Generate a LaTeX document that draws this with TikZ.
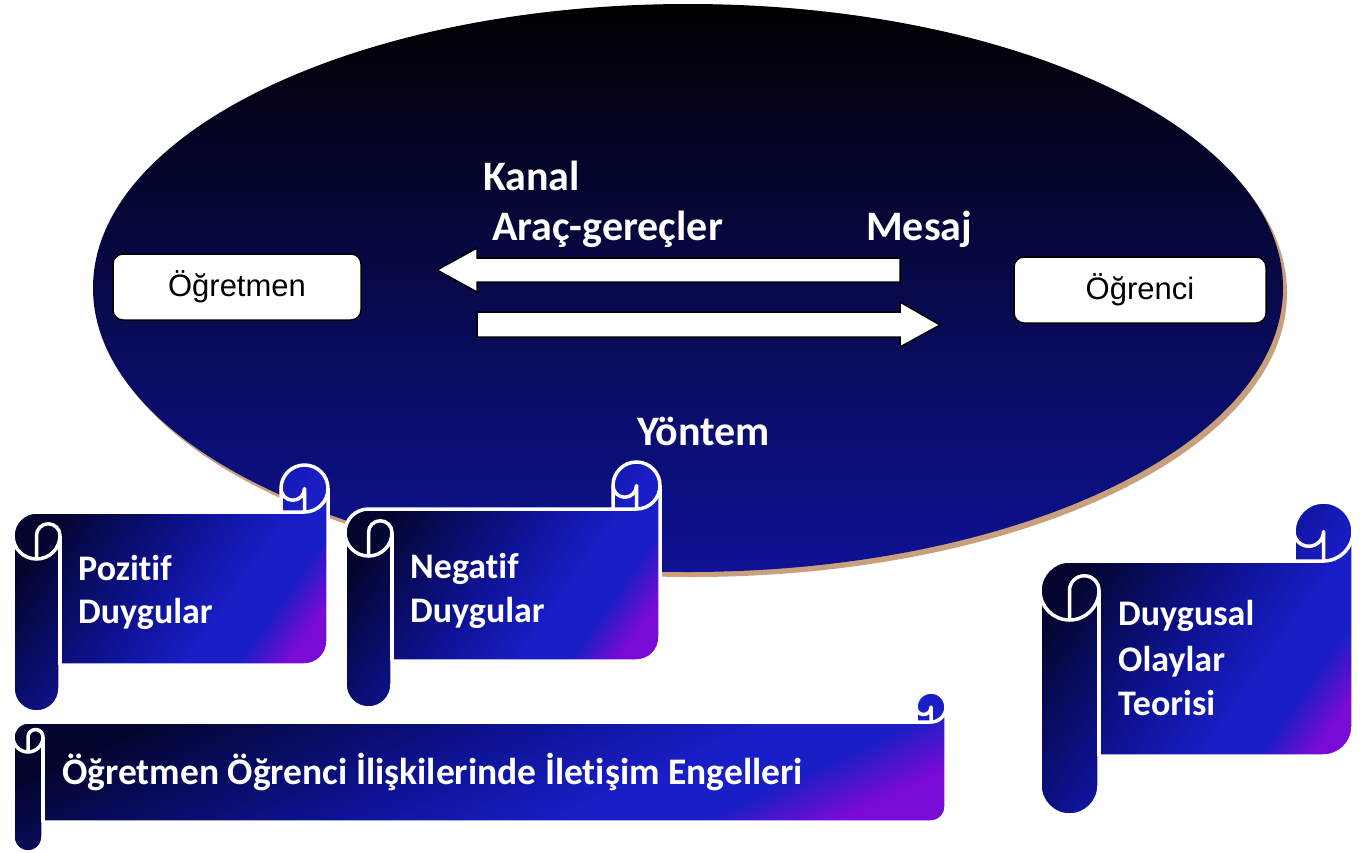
\documentclass[tikz,border=0pt]{standalone}
\usepackage{fontspec}
\setmainfont{Carlito}[Ligatures={NoCommon}]
\newfontfamily\arialf{Liberation Sans}
\usetikzlibrary{calc}
\definecolor{ellTop}{HTML}{000000}
\definecolor{ellMid}{HTML}{07085C}
\definecolor{ellBot}{HTML}{0E1294}
\definecolor{shadowTan}{HTML}{C9A07E}
\definecolor{scA}{HTML}{03052E}
\definecolor{scB}{HTML}{0E1398}
\definecolor{scC}{HTML}{1A1EC6}
\definecolor{scD}{HTML}{7A0AD6}
\pgfdeclarehorizontalshading{scrollshade}{100bp}{color(0bp)=(scA); color(27bp)=(scA); color(48bp)=(scB); color(60bp)=(scC); color(67bp)=(scC); color(74bp)=(scD); color(100bp)=(scD)}
\tikzset{
  scrollfill/.style={shading=scrollshade, shading angle=-35},
  scrollline/.style={draw=white, line width=3.5pt, line join=round},
  wbox/.style={draw=black, line width=1.5pt, fill=white, rounded corners=10pt, inner sep=0pt, font=\arialf\fontsize{31}{36}\selectfont},
  blockarrow/.style={draw=black, line width=1.5pt, fill=white, line join=miter},
  etxt/.style={text=white, inner sep=0pt, anchor=base west, font=\bfseries\fontsize{42}{48}\selectfont},
  stxt/.style={text=white, inner sep=0pt, anchor=base west, font=\bfseries\fontsize{36}{44}\selectfont},
}
\newcommand{\scrollshape}[6][-35]{%
  \pgfmathsetmacro\sxl{#2}\pgfmathsetmacro\syt{#3}\pgfmathsetmacro\sxr{#4}\pgfmathsetmacro\syb{#5}\pgfmathsetmacro\sch{#6}%
  \pgfmathsetmacro\schh{\sch/2}\pgfmathsetmacro\schq{\sch/4}%
  \pgfmathsetmacro\sxa{\sxl+\schh}\pgfmathsetmacro\sxb{\sxl+\sch}%
  \pgfmathsetmacro\sxc{\sxr-\sch}\pgfmathsetmacro\sxd{\sxr-\schh}%
  \pgfmathsetmacro\sya{\syt+\schh}\pgfmathsetmacro\syc{\syt+\sch}\pgfmathsetmacro\syd{\syt+1.5*\sch}\pgfmathsetmacro\sye{\syt+2*\sch}%
  \pgfmathsetmacro\syf{\syb-1.5*\sch}\pgfmathsetmacro\syg{\syb-\sch}\pgfmathsetmacro\syh{\syb-\schh}%
  \shade[scrollfill, shading angle=#1] (\sxl,\syd) arc[start angle=180,end angle=270,radius=\schh] -- (\sxc,\syc) -- (\sxc,\sya) arc[start angle=180,end angle=360,radius=\schh] -- (\sxr,\syf) arc[start angle=0,end angle=90,radius=\schh] -- (\sxb,\syg) -- (\sxb,\syh) arc[start angle=0,end angle=180,radius=\schh] -- cycle;
  \draw[scrollline] (\sxl,\syd) arc[start angle=180,end angle=270,radius=\schh] -- (\sxc,\syc) -- (\sxc,\sya) arc[start angle=180,end angle=360,radius=\schh] -- (\sxr,\syf) arc[start angle=0,end angle=90,radius=\schh] -- (\sxb,\syg) -- (\sxb,\syh) arc[start angle=0,end angle=180,radius=\schh] -- cycle;
  \draw[scrollline] (\sxc,\syc) -- (\sxd,\syc) arc[start angle=90,end angle=0,radius=\schh];
  \draw[scrollline] (\sxd,\syc) -- (\sxd,\sya) arc[start angle=0,end angle=180,radius=\schq];
  \draw[scrollline] (\sxa,\sye) -- (\sxa,\syd) arc[start angle=180,end angle=360,radius=\schq] arc[start angle=0,end angle=180,radius=\schh];
  \draw[scrollline] (\sxb,\syd) -- (\sxb,\syg);
}
\begin{document}
\begin{tikzpicture}[x=1pt,y=-1pt]
\useasboundingbox (0,0) rectangle (1364,852);
% ellipse with shadow
\fill[shadowTan] (692,293) ellipse [x radius=595, y radius=284];
\shade[top color=ellTop, middle color=ellMid, bottom color=ellBot] (688,288) ellipse [x radius=595, y radius=284];
% boxes
\node[wbox, minimum width=248pt, minimum height=66pt] (ogretmen) at (237,287) {Öğretmen};
\node[wbox, minimum width=252pt, minimum height=66pt] (ogrenci) at (1140,290) {Öğrenci};
% block arrows
\draw[blockarrow] (437,270) -- (477,248) -- (477,258) -- (900,258) -- (900,282) -- (477,282) -- (477,292) -- cycle;
\draw[blockarrow] (940,325) -- (900,302) -- (900,312) -- (477,312) -- (477,337) -- (900,337) -- (900,347) -- cycle;
% labels in ellipse
\node[etxt] (kanal) at (483,190) {Kanal};
\node[etxt] (arac) at (492,240) {Araç-gereçler};
\node[etxt] (mesaj) at (866,240) {Mesaj};
\node[etxt] (yontem) at (637,445) {Yöntem};
% scrolls
\scrollshape{13}{465}{328}{712}{47}
\node[stxt] (poz1) at (78,580) {Pozitif};
\node[stxt] (poz2) at (78,623) {Duygular};
\scrollshape{345}{462}{660}{708}{47}
\node[stxt] (neg1) at (410,578) {Negatif};
\node[stxt] (neg2) at (410,622) {Duygular};
\scrollshape{1040}{502}{1353}{815}{59}
\node[stxt] (duy1) at (1118,625) {Duygusal};
\node[stxt] (duy2) at (1118,671) {Olaylar};
\node[stxt] (duy3) at (1118,715) {Teorisi};
\scrollshape[-65]{13}{692}{946}{852}{30}
\node[stxt, font=\bfseries\fontsize{37.5}{44}\selectfont] (engel) at (62,784) {Öğretmen Öğrenci İlişkilerinde İletişim Engelleri};
\end{tikzpicture}
\end{document}
